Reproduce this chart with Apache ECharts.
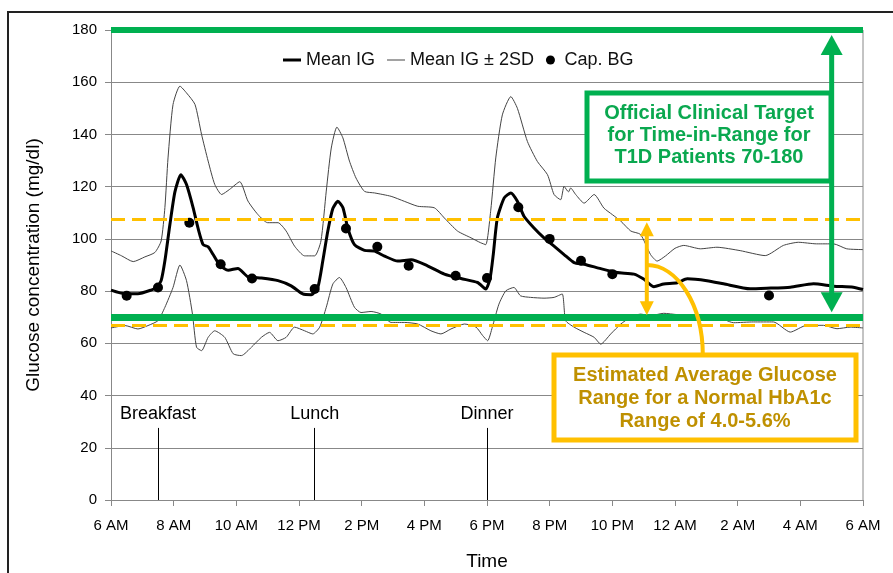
<!DOCTYPE html>
<html>
<head>
<meta charset="utf-8">
<script src="https://cdn.jsdelivr.net/npm/echarts@6.0.0/dist/echarts.min.js"></script>
<style>
html,body{margin:0;padding:0;background:#fff;}
#chart{width:893px;height:573px;}
</style>
</head>
<body>
<div id="chart"></div>
<script>
// hours after 6 AM -> tick labels
const timeLabels = ['6 AM','8 AM','10 AM','12 PM','2 PM','4 PM','6 PM','8 PM','10 PM','12 AM','2 AM','4 AM','6 AM'];

// [hours after 6 AM, mg/dl]
const meanIG = [[0,80.4],[0.45,79],[0.86,79],[1.3,80.5],[1.45,81.4],[1.6,84],[1.72,91.6],[1.88,105.5],[2.04,118],[2.23,124.6],[2.41,120.8],[2.62,112],[2.78,104],[2.94,97.8],[3.1,97],[3.26,94],[3.47,90],[3.74,88],[4.05,88.7],[4.37,85.5],[4.8,85],[5.33,84],[5.75,82],[6.12,78.9],[6.39,78.6],[6.6,81.4],[6.76,91.6],[6.92,103],[7.08,111.6],[7.24,114.4],[7.4,112],[7.56,104],[7.77,97.8],[8.09,95.6],[8.41,95.3],[8.73,93.4],[9.15,91.5],[9.58,92],[10.1,89.7],[10.64,86.5],[11.17,84.8],[11.7,83.3],[11.96,80.8],[12.1,85],[12.2,94],[12.33,108],[12.55,115.7],[12.76,117.6],[12.97,114.4],[13.18,108.7],[13.5,104.2],[13.82,100.4],[14.14,97.2],[14.46,94],[14.78,90.9],[15.1,90.3],[15.63,88.6],[16.16,87.1],[16.69,86.5],[17.0,84.6],[17.33,81.7],[17.64,82.7],[18.07,83.2],[18.39,84.7],[19.02,84],[19.55,82.8],[20.4,80.9],[20.93,81.1],[21.68,81.5],[22.42,82.8],[23.06,81.9],[23.69,81.5],[24,80.6]];

const upperIG = [[0,95.4],[0.34,93.5],[0.71,91.3],[1.08,93.1],[1.4,94.8],[1.6,99.2],[1.72,112],[1.82,131],[1.98,151.5],[2.2,158.5],[2.41,155.9],[2.68,151.5],[2.89,140],[3.1,129.8],[3.31,120.9],[3.53,117],[3.79,119],[4.11,121.9],[4.37,114.5],[4.69,109.3],[5.0,106.2],[5.33,106.2],[5.59,103],[5.86,97.2],[6.18,93.5],[6.5,93.5],[6.7,99.2],[6.87,118.3],[7.03,134.8],[7.21,142.8],[7.4,138.7],[7.61,129.8],[7.82,123.3],[8.09,118.2],[8.41,117.6],[8.94,116.3],[9.36,114.4],[9.79,112.5],[10.32,111.9],[10.64,108],[11.06,103],[11.49,100.4],[11.8,98.5],[11.96,97.8],[12.12,111],[12.28,131],[12.49,147.5],[12.76,154.5],[12.97,150],[13.29,137.3],[13.61,129.6],[13.93,124.6],[14.14,117],[14.35,115],[14.46,120.1],[14.6,118],[14.67,119.5],[14.83,117],[15.1,113.7],[15.42,117],[15.73,111.8],[16.0,109.3],[16.27,106.8],[16.59,103],[16.9,101.7],[17.22,94],[17.43,91.5],[17.7,93.5],[18.0,96.4],[18.28,97.5],[18.81,96.2],[19.34,96.8],[20.08,95.5],[20.88,93.6],[21.46,97.5],[21.94,98.7],[22.52,98.1],[23.06,98.1],[23.48,96.2],[24,95.9]];

const lowerIG = [[0,65.9],[0.45,66.8],[0.86,65.5],[1.18,66.8],[1.5,68.7],[1.72,73.8],[1.98,81.4],[2.2,90],[2.41,84],[2.6,71.2],[2.73,58.5],[2.89,57.2],[3.1,62.3],[3.31,64.8],[3.63,62.3],[3.9,56],[4.16,55.3],[4.48,58.5],[4.8,62.3],[5.06,64.2],[5.33,61],[5.59,62.3],[5.86,66.2],[6.18,64.8],[6.44,63.6],[6.66,66.2],[6.87,73.8],[7.08,82.7],[7.29,85.2],[7.5,81.4],[7.77,73.8],[7.98,71.8],[8.3,72.2],[8.62,71.2],[8.94,68],[9.36,68],[9.79,67.4],[10.21,64.8],[10.53,63.6],[10.85,65.5],[11.28,67.4],[11.65,66.2],[11.86,63],[12.02,61],[12.17,66.2],[12.38,75],[12.6,80.1],[12.86,81.4],[13.07,78.2],[13.39,77.6],[13.82,77.3],[14.14,77.6],[14.4,78.9],[14.51,68.7],[14.78,66.2],[15.1,64.2],[15.42,62.3],[15.63,59.7],[15.95,63.6],[16.27,67.4],[16.59,70],[16.9,71.2],[17.22,70.6],[17.64,71.5],[18.07,71],[18.6,70.8],[19.23,70.7],[19.87,67.9],[20.5,68.2],[21.14,68.2],[21.68,64.3],[22.2,66.9],[22.74,66.9],[23.17,65.6],[23.59,66.2],[24,65.9]];

const capBG = [[0.5,78.2],[1.5,81.4],[2.5,106.2],[3.5,90.3],[4.5,84.8],[6.5,80.8],[7.5,104],[8.5,97],[9.5,89.7],[11,85.9],[12,85],[13,112.1],[14,100],[15,91.6],[16,86.5],[21,78.3]];

// meal times (hours after 6 AM)
const meals = [['Breakfast',1.5],['Lunch',6.5],['Dinner',12]];
const targetRange = [70,180];
const eagRange = [67,107.5];

const FONT = 'Liberation Sans, Arial, sans-serif';
const GREEN = '#00b050';
const ORANGE = '#ffc000';

const chart = echarts.init(document.getElementById('chart'));

const option = {
    animation: false,
    backgroundColor: '#fff',
    textStyle: {fontFamily: FONT},
    grid: {left: 111, right: 30, top: 30, bottom: 73, outerBoundsMode: 'none', containLabel: false},
    legend: {
        left: 278, top: 46,
        itemWidth: 18, itemHeight: 9, itemGap: 12,
        textStyle: {fontSize: 18, color: '#111', fontFamily: FONT},
        data: [
            {name: 'Mean IG', icon: 'path://M0,0H6V1H0Z'},
            {name: 'Mean IG ± 2SD', icon: 'path://M0,0H18V1H0Z'},
            {name: 'Cap. BG', icon: 'circle'}
        ]
    },
    xAxis: {
        type: 'value', min: 0, max: 24, interval: 2,
        name: 'Time', nameLocation: 'middle', nameGap: 52,
        nameTextStyle: {fontSize: 19, color: '#000'},
        axisLine: {lineStyle: {color: '#888'}},
        axisTick: {show: true, length: 6, lineStyle: {color: '#888'}},
        axisLabel: {fontSize: 15, color: '#000', margin: 18,
            formatter: v => timeLabels[Math.round(v / 2)]},
        splitLine: {show: false}
    },
    yAxis: {
        type: 'value', min: 0, max: 180, interval: 20,
        name: 'Glucose concentration (mg/dl)', nameLocation: 'middle', nameGap: 68,
        nameTextStyle: {fontSize: 19, color: '#000'},
        axisLine: {show: true, lineStyle: {color: '#888'}},
        axisTick: {show: true, length: 6, lineStyle: {color: '#888'}},
        axisLabel: {fontSize: 15, color: '#000', margin: 14},
        splitLine: {lineStyle: {color: '#888', width: 1}}
    },
    series: [
        {
            name: 'Mean IG ± 2SD', type: 'line', data: upperIG, showSymbol: false, symbol: 'none',
            smooth: 0.2, lineStyle: {color: '#444', width: 1}, itemStyle: {color: '#444'}, z: 2
        },
        {
            name: 'Mean IG ± 2SD', type: 'line', data: lowerIG, showSymbol: false, symbol: 'none',
            smooth: 0.2, lineStyle: {color: '#444', width: 1}, itemStyle: {color: '#444'}, z: 2
        },
        {
            name: 'Mean IG', type: 'line', data: meanIG, showSymbol: false, symbol: 'none',
            smooth: 0.2, lineStyle: {color: '#000', width: 3}, itemStyle: {color: '#000'}, z: 3
        },
        {
            name: 'Cap. BG', type: 'scatter', data: capBG, symbolSize: 10,
            itemStyle: {color: '#000', opacity: 1}, z: 4
        },
        {
            name: 'ranges', type: 'line', data: [], z: 5,
            markLine: {
                silent: true, symbol: ['none', 'none'],
                label: {show: false},
                data: [
                    {yAxis: eagRange[1], lineStyle: {color: ORANGE, width: 3, type: [14, 7]}},
                    {yAxis: eagRange[0], lineStyle: {color: ORANGE, width: 3, type: [14, 7]}},
                    {yAxis: targetRange[1], lineStyle: {color: GREEN, width: 6, type: 'solid'}},
                    {yAxis: targetRange[0], lineStyle: {color: GREEN, width: 7, type: 'solid'}}
                ]
            }
        },
        {
            name: 'meals', type: 'line', data: [], z: 1,
            markLine: {
                silent: true, symbol: ['none', 'none'],
                lineStyle: {color: '#000', width: 1, type: 'solid'},
                label: {show: true, position: 'end', distance: 5, fontSize: 18, color: '#000',
                    fontFamily: FONT, formatter: p => p.name},
                data: meals.map(m => [{coord: [m[1], 0], name: m[0]}, {coord: [m[1], 27.6]}])
            }
        }
    ]
};
chart.setOption(option);

// annotations: arrows, boxes and connector
function px(h, v) { return chart.convertToPixel({gridIndex: 0}, [h, v]); }

function doubleArrow(x, yTop, yBot, color, shaftW, headW, headH) {
    return [
        {type: 'line', shape: {x1: x, y1: yTop + headH - 1, x2: x, y2: yBot - headH + 1},
            style: {stroke: color, lineWidth: shaftW}, z: 100},
        {type: 'polygon', shape: {points: [[x, yTop], [x - headW / 2, yTop + headH], [x + headW / 2, yTop + headH]]},
            style: {fill: color}, z: 100},
        {type: 'polygon', shape: {points: [[x, yBot], [x - headW / 2, yBot - headH], [x + headW / 2, yBot - headH]]},
            style: {fill: color}, z: 100}
    ];
}

const gTop = px(23, targetRange[1]);
const gBot = px(23, targetRange[0]);
const oTop = px(17.1, eagRange[1]);
const oBot = px(17.1, targetRange[0]);
const rTop = px(24, 180);
const rBot = px(24, 0);

// quarter-ellipse connector from the orange arrow to the orange box
const ax = oTop[0], ay = 265, rx = 56, ry = 90, k = 0.5523;

const graphics = [
    {type: 'rect', shape: {x: 8, y: 12, width: 900, height: 600},
        style: {fill: 'none', stroke: '#222', lineWidth: 2}, z: 100, silent: true},
    {type: 'line', shape: {x1: rTop[0], y1: rTop[1], x2: rBot[0], y2: rBot[1]},
        style: {stroke: '#888', lineWidth: 1}, z: 0, silent: true}
].concat(
    doubleArrow(gTop[0], gTop[1] + 5, gBot[1] - 5, GREEN, 5, 22, 20),
    doubleArrow(oTop[0], oTop[1] + 3, oBot[1] - 2, ORANGE, 4, 14, 14),
    [
        {type: 'bezierCurve', shape: {x1: ax, y1: ay, cpx1: ax + k * rx, cpy1: ay,
            cpx2: ax + rx, cpy2: ay + ry - k * ry, x2: ax + rx, y2: ay + ry},
            style: {fill: 'none', stroke: ORANGE, lineWidth: 4}, z: 100},
        {type: 'rect', shape: {x: 587, y: 93, width: 244, height: 88},
            style: {fill: '#fff', stroke: GREEN, lineWidth: 5}, z: 101},
        {type: 'text', x: 709, y: 135, z: 102,
            style: {text: 'Official Clinical Target\nfor Time-in-Range for\nT1D Patients 70-180',
                fill: '#0aa84f', font: 'bold 20px ' + FONT, align: 'center', verticalAlign: 'middle', lineHeight: 22}},
        {type: 'rect', shape: {x: 554, y: 355, width: 302, height: 85},
            style: {fill: '#fff', stroke: ORANGE, lineWidth: 5}, z: 101},
        {type: 'text', x: 705, y: 398, z: 102,
            style: {text: 'Estimated Average Glucose\nRange for a Normal HbA1c\nRange of 4.0-5.6%',
                fill: '#bf9000', font: 'bold 20px ' + FONT, align: 'center', verticalAlign: 'middle', lineHeight: 23}}
    ]
);
chart.setOption({graphic: graphics});
</script>
</body>
</html>
